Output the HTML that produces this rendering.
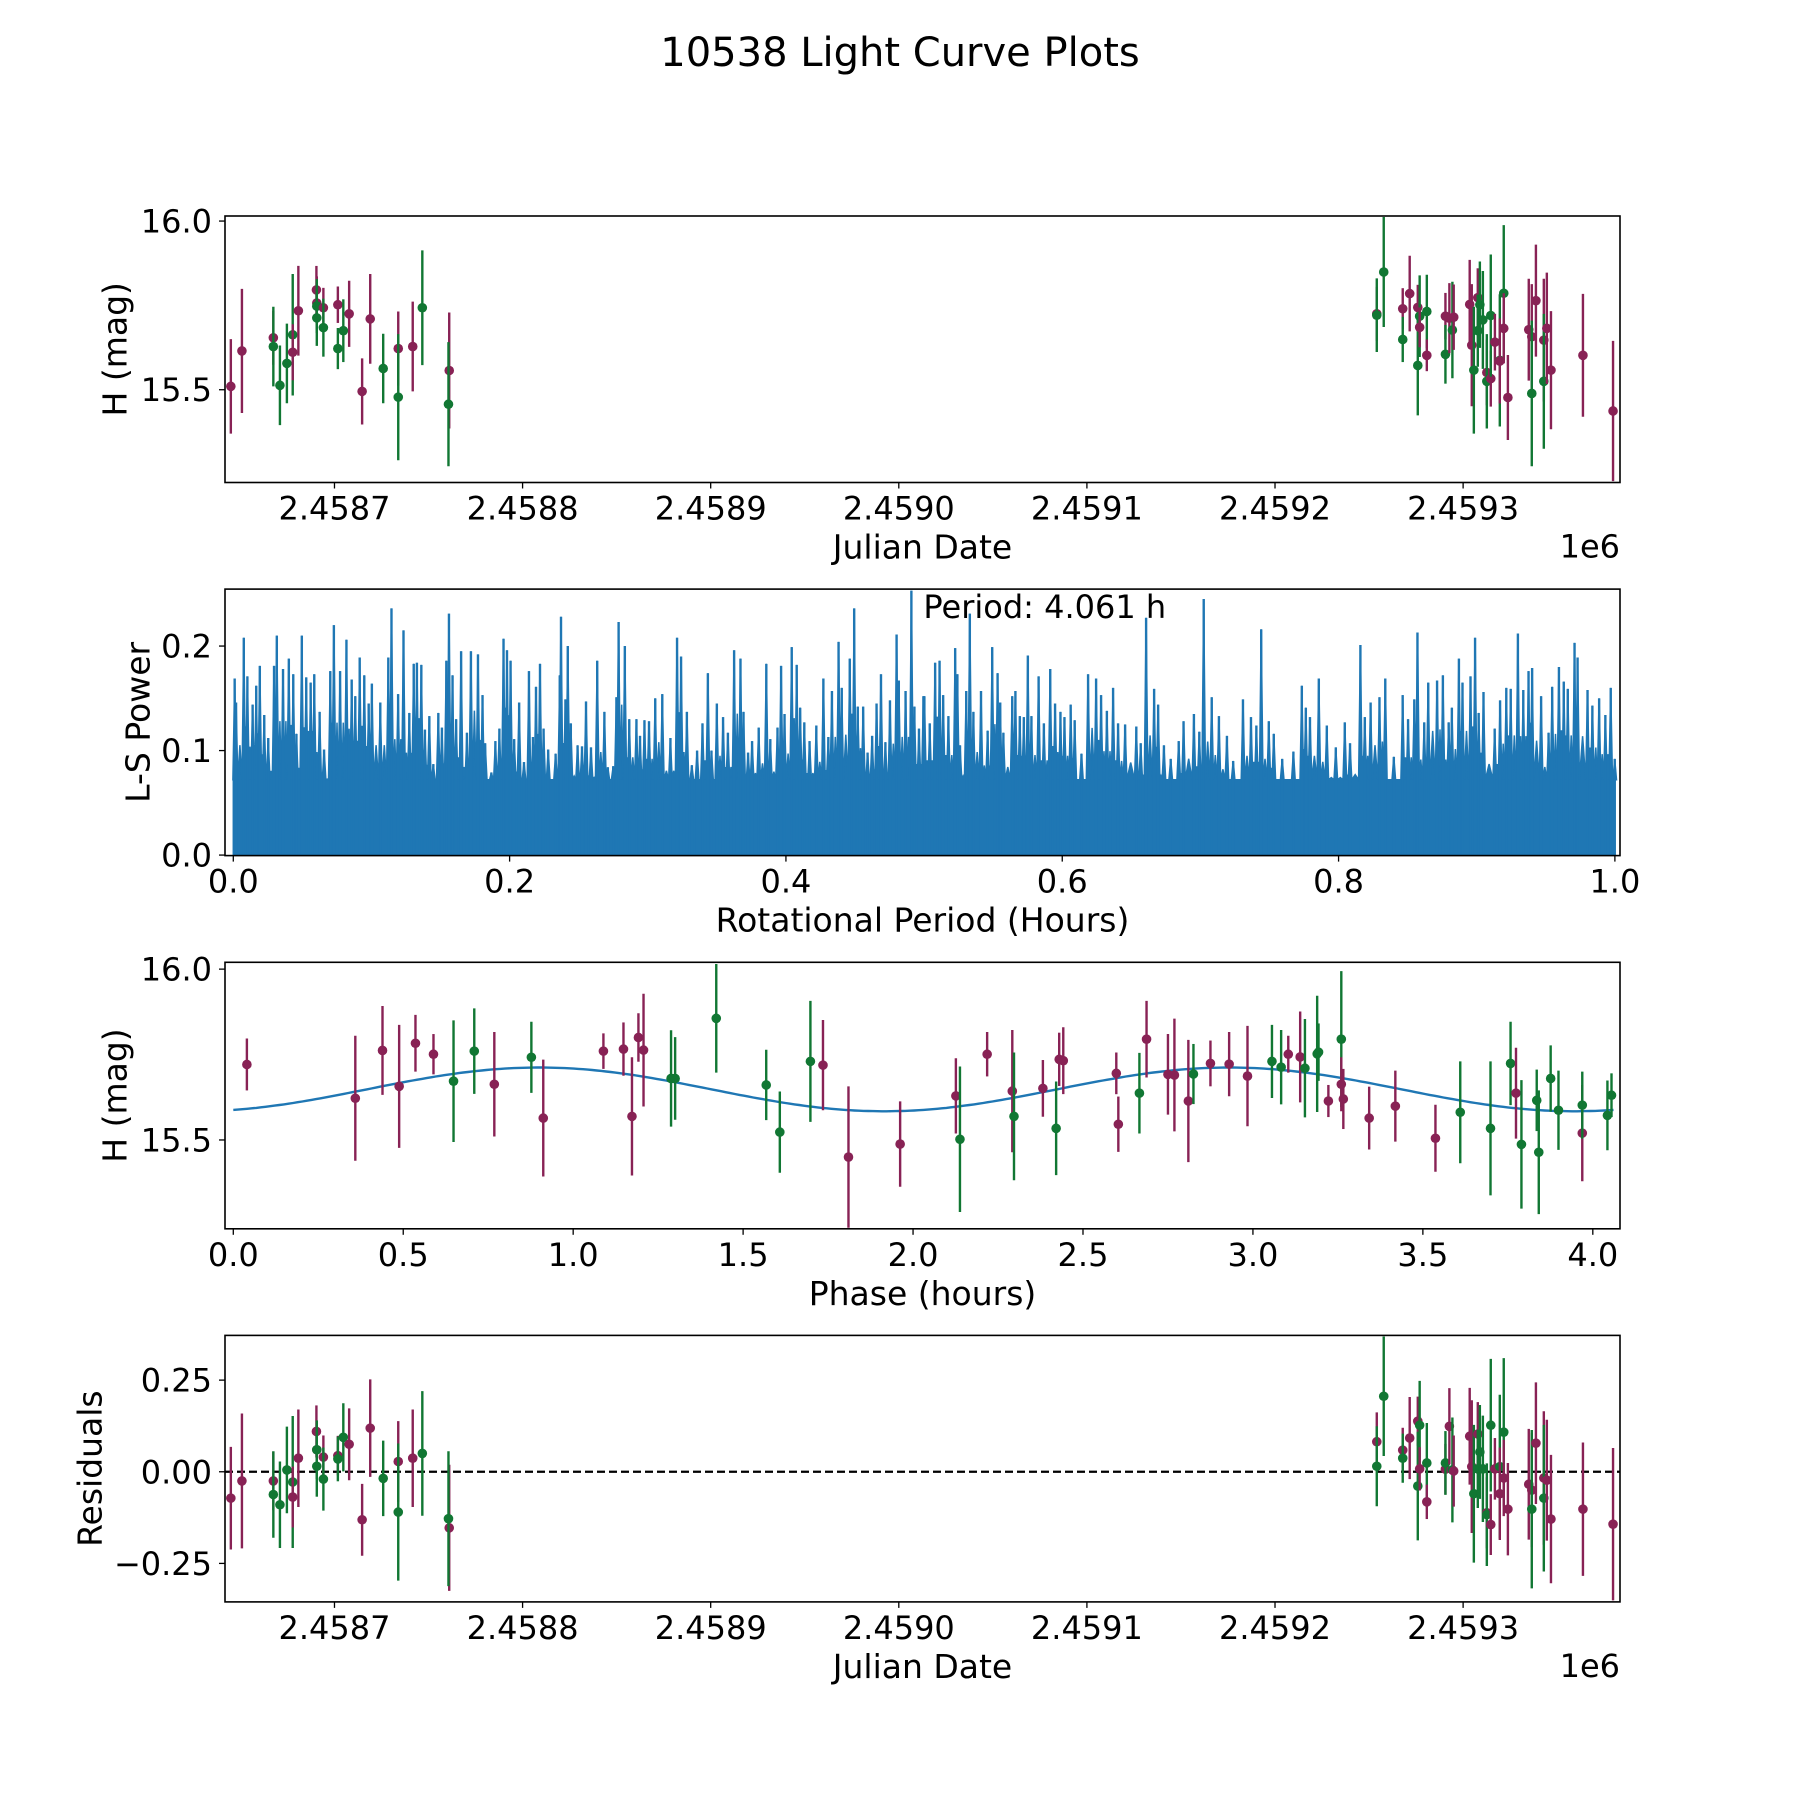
<!DOCTYPE html>
<html><head><meta charset="utf-8"><title>10538 Light Curve Plots</title>
<style>
html,body{margin:0;padding:0;background:#fff;}
svg{display:block;font-family:"DejaVu Sans","Liberation Sans",sans-serif;}
</style></head>
<body>
<svg id="fig" width="1800" height="1800" viewBox="0 0 1800 1800" xmlns="http://www.w3.org/2000/svg">
<rect x="0" y="0" width="1800" height="1800" fill="#fff"/>
<text x="900" y="66" font-size="40" text-anchor="middle" fill="#000">10538 Light Curve Plots</text>
</svg>
<script>
// ---------- Light curve data (Julian Date, H mag, error, filter, residual) ----------
const lcDates = [2458644.9,2458650.8,2458667.5,2458667.5,2458671.0,2458674.7,2458677.8,2458677.8,2458680.8,2458690.4,2458690.6,2458690.6,2458690.6,2458694.1,2458694.1,2458701.8,2458701.8,2458704.7,2458707.8,2458714.7,2458719.0,2458725.9,2458733.9,2458733.9,2458741.6,2458746.7,2458761.0,2458760.6,
2459254.1,2459254.1,2459257.8,2459267.9,2459267.9,2459271.6,2459275.9,2459275.9,2459276.9,2459276.9,2459280.7,2459280.7,2459290.6,2459290.6,2459292.7,2459294.3,2459295.0,2459303.5,2459304.6,2459305.7,2459307.8,2459308.9,2459307.8,2459310.5,2459312.6,2459312.6,2459314.7,2459314.7,2459316.9,2459319.5,2459319.5,2459321.6,2459321.6,2459323.8,2459334.9,2459336.5,2459336.5,2459338.7,2459342.9,2459342.9,2459344.5,2459346.7,2459363.7,2459379.7];
const lcMags = [15.510,15.615,15.654,15.628,15.513,15.578,15.663,15.611,15.734,15.796,15.757,15.748,15.713,15.743,15.684,15.752,15.622,15.675,15.725,15.495,15.710,15.563,15.622,15.478,15.628,15.743,15.557,15.457,
15.725,15.721,15.849,15.740,15.649,15.785,15.744,15.572,15.718,15.685,15.732,15.602,15.718,15.605,15.712,15.677,15.715,15.753,15.632,15.558,15.773,15.752,15.675,15.707,15.551,15.525,15.533,15.720,15.641,15.587,15.585,15.786,15.682,15.477,15.678,15.657,15.489,15.764,15.647,15.525,15.682,15.558,15.602,15.437];
const lcErrs = [0.140,0.184,0.080,0.118,0.118,0.118,0.180,0.083,0.133,0.071,0.079,0.080,0.083,0.059,0.086,0.054,0.061,0.093,0.098,0.098,0.133,0.103,0.110,0.187,0.133,0.170,0.172,0.184,
0.080,0.109,0.163,0.061,0.067,0.112,0.067,0.148,0.121,0.059,0.109,0.047,0.069,0.087,0.104,0.143,0.097,0.132,0.181,0.188,0.087,0.128,0.107,0.145,0.097,0.140,0.083,0.181,0.084,0.196,0.126,0.202,0.104,0.126,0.151,0.156,0.216,0.166,0.182,0.200,0.165,0.175,0.182,0.208];
const lcFilters = ["m","m","m","g","g","g","g","m","m","m","m","g","g","m","g","m","g","g","m","m","m","g","m","g","m","g","m","g",
"m","g","g","m","g","m","m","g","g","m","g","m","m","g","m","g","m","m","m","g","m","g","g","g","m","g","m","g","m","g","m","g","m","m","m","m","g","m","m","g","m","m","m","m"];
const lcResid = [-0.072,-0.025,-0.025,-0.062,-0.090,0.005,-0.028,-0.069,0.037,0.110,0.060,0.060,0.015,0.040,-0.020,0.044,0.035,0.094,0.075,-0.131,0.119,-0.018,0.028,-0.110,0.037,0.050,-0.153,-0.128,
0.082,0.015,0.206,0.059,0.037,0.092,0.138,-0.039,0.127,0.008,0.024,-0.082,0.007,0.024,0.124,0.005,0.002,0.097,0.014,-0.060,0.103,0.054,0.008,0.008,-0.112,-0.117,-0.144,0.127,0.008,0.014,-0.060,0.108,-0.017,-0.102,-0.034,-0.050,-0.102,0.078,-0.017,-0.072,-0.023,-0.129,-0.102,-0.143];

// ---------- Phase-folded data ----------
const phPhase = [0.040,0.359,0.439,0.488,0.536,0.589,0.648,0.709,0.768,0.877,0.912,1.089,1.148,1.173,1.192,1.207,1.288,1.300,
1.421,1.568,1.608,1.698,1.735,1.810,1.962,2.126,2.138,2.218,2.292,2.297,2.382,2.421,2.430,2.442,2.598,2.604,2.666,2.687,
2.750,2.769,2.810,2.825,2.875,2.930,2.984,3.056,3.083,3.104,3.139,3.153,3.189,3.193,3.222,3.260,3.260,3.266,3.342,3.419,3.537,3.610,3.699,3.758,3.774,3.790,3.835,3.841,3.876,3.899,3.969,3.969,4.043,4.055];
const phMag = [15.721,15.622,15.762,15.657,15.783,15.751,15.672,15.760,15.663,15.742,15.564,15.760,15.766,15.569,15.800,15.763,15.680,15.680,
15.856,15.661,15.523,15.730,15.719,15.450,15.488,15.629,15.502,15.751,15.643,15.569,15.651,15.534,15.736,15.732,15.695,15.546,15.637,15.795,
15.692,15.690,15.614,15.693,15.724,15.722,15.687,15.730,15.713,15.751,15.743,15.710,15.752,15.757,15.614,15.795,15.663,15.620,15.564,15.599,15.505,15.581,15.534,15.724,15.637,15.487,15.616,15.464,15.680,15.587,15.520,15.602,15.572,15.631];
const phErr = [0.076,0.183,0.130,0.180,0.083,0.059,0.178,0.125,0.153,0.104,0.171,0.052,0.078,0.173,0.071,0.165,0.141,0.121,
0.159,0.103,0.119,0.177,0.132,0.207,0.125,0.110,0.213,0.065,0.179,0.187,0.083,0.137,0.078,0.098,0.061,0.081,0.118,0.112,
0.118,0.165,0.179,0.088,0.067,0.094,0.147,0.107,0.109,0.054,0.133,0.144,0.170,0.084,0.047,0.199,0.079,0.088,0.092,0.104,0.098,0.149,0.196,0.122,0.133,0.188,0.090,0.181,0.097,0.116,0.141,0.098,0.102,0.064];
const phFilters = ["m","m","m","m","m","m","g","g","m","g","m","m","m","m","m","m","g","g",
"g","g","g","g","m","m","m","m","g","m","m","g","m","g","m","m","m","m","g","m",
"m","m","m","g","m","m","m","g","g","m","m","g","g","g","m","g","m","m","m","m","m","g","g","g","m","g","g","g","g","g","m","g","g","g"];
// Fitted sinusoid model parameters (mag)
const modelMean = 15.648;
const modelAmp = 0.064;
const modelPeak = 0.90;
const modelPeriod = 2.0305;
const modelRange = [0.0, 4.061];

// ---------- Periodogram peaks ----------
const lsFreq = [0.001,0.002,0.0076,0.0102,0.014,0.0166,0.0192,0.0224,0.0253,0.0295,0.0315,0.036,0.0402,0.0434,0.0457,0.0496,0.0528,0.056,0.0586,0.0625,0.0657,0.0702,0.0728,0.0773,0.0819,0.0857,0.0883,0.0915,0.0948,0.098,0.1003,0.1064,0.1122,0.1145,0.1193,0.1232,0.1274,0.1306,0.1329,0.1361,0.1387,0.1419,0.1448,0.1484,0.151,0.1542,0.1561,0.1587,0.1613,0.1649,0.1691,0.172,0.1771,0.1804,0.1823,0.1868,0.1897,0.1926,0.1956,0.1981,0.2007,0.2033,0.2069,0.2104,0.214,0.2169,0.2191,0.222,0.2246,0.2279,0.2333,0.2363,0.2372,0.2404,0.2421,0.2443,0.2492,0.2524,0.2553,0.2589,0.2634,0.2686,0.2711,0.275,0.2773,0.2789,0.2834,0.2866,0.2918,0.2944,0.2976,0.3009,0.3054,0.3105,0.3164,0.3212,0.3241,0.3283,0.3319,0.3357,0.3396,0.3435,0.3461,0.35,0.3545,0.358,0.3625,0.3671,0.3693,0.3726,0.3755,0.3803,0.3858,0.3887,0.3939,0.3965,0.399,0.4042,0.4078,0.4103,0.4133,0.4171,0.422,0.4271,0.4307,0.4333,0.4381,0.4404,0.4462,0.4494,0.452,0.4559,0.4591,0.4624,0.4656,0.4688,0.472,0.4753,0.4801,0.4817,0.4866,0.4908,0.493,0.4963,
0.4995,0.5002,0.5041,0.508,0.5112,0.5138,0.5176,0.5225,0.5241,0.526,0.5305,0.5331,0.5357,0.5412,0.546,0.5493,0.5532,0.5551,0.5574,0.5638,0.5661,0.5693,0.5722,0.5751,0.5777,0.5829,0.5867,0.5913,0.5948,0.5987,0.6016,0.6061,0.609,0.6139,0.6187,0.6245,0.6281,0.6323,0.6368,0.6404,0.6455,0.6536,0.6568,0.6607,0.6665,0.6694,0.6736,0.6785,0.6843,0.6878,0.6953,0.6992,0.7024,0.7082,0.7134,0.7192,0.7237,0.7308,0.7366,0.7405,0.744,0.7495,0.7531,0.7592,0.7673,0.7734,0.7763,0.7793,0.7857,0.7915,0.798,0.8045,0.8083,0.8158,0.819,0.8232,0.8296,0.8338,0.84,0.8464,0.8503,0.8548,0.8571,0.862,0.8649,0.8713,0.8755,0.8797,0.882,0.8871,0.8897,0.8955,0.8988,0.9014,0.9049,0.913,0.9169,0.9214,0.9246,0.9298,0.9337,0.9375,0.9401,0.9466,0.952,0.9546,0.9595,0.963,0.9659,0.9708,0.973,0.9802,0.9837,0.9886,0.9931,0.997,0.9999];
const lsPower = [0.169,0.146,0.208,0.171,0.144,0.162,0.181,0.134,0.112,0.181,0.210,0.178,0.188,0.173,0.116,0.210,0.170,0.165,0.173,0.137,0.101,0.176,0.220,0.176,0.206,0.168,0.152,0.189,0.172,0.145,0.164,0.146,0.189,0.236,0.154,0.215,0.136,0.183,0.184,0.182,0.120,0.133,0.087,0.136,0.122,0.186,0.231,0.172,0.130,0.195,0.117,0.195,0.192,0.153,0.107,0.079,0.109,0.121,0.207,0.196,0.186,0.111,0.146,0.089,0.176,0.113,0.161,0.183,0.121,0.101,0.097,0.172,0.228,0.149,0.200,0.126,0.105,0.104,0.147,0.103,0.186,0.137,0.084,0.085,0.151,0.223,0.200,0.130,0.130,0.114,0.129,0.128,0.150,0.154,0.112,0.208,0.190,0.137,0.086,0.100,0.126,0.174,0.100,0.145,0.132,0.117,0.196,0.188,0.137,0.098,0.109,0.122,0.183,0.111,0.122,0.181,0.135,0.199,0.182,0.141,0.127,0.109,0.124,0.169,0.113,0.157,0.204,0.160,0.188,0.236,0.142,0.142,0.098,0.114,0.145,0.173,0.108,0.148,0.211,0.167,0.157,0.253,0.142,0.121,
0.152,0.152,0.126,0.184,0.186,0.153,0.133,0.198,0.173,0.105,0.157,0.231,0.137,0.157,0.119,0.199,0.174,0.146,0.117,0.152,0.157,0.133,0.132,0.191,0.133,0.171,0.126,0.178,0.145,0.137,0.132,0.144,0.129,0.097,0.173,0.169,0.153,0.138,0.160,0.126,0.125,0.123,0.107,0.227,0.159,0.144,0.105,0.092,0.109,0.128,0.135,0.118,0.245,0.151,0.133,0.114,0.090,0.149,0.132,0.124,0.216,0.128,0.116,0.092,0.099,0.162,0.141,0.132,0.169,0.124,0.103,0.127,0.107,0.201,0.132,0.146,0.151,0.169,0.094,0.153,0.130,0.149,0.213,0.127,0.165,0.167,0.172,0.127,0.141,0.188,0.165,0.171,0.208,0.136,0.156,0.121,0.148,0.160,0.159,0.212,0.158,0.176,0.179,0.152,0.117,0.161,0.180,0.166,0.159,0.203,0.189,0.158,0.143,0.150,0.134,0.160,0.092];
const lsFloor = 0.072;
const periodLabel = "Period: 4.061 h";

// ---------- tick labels ----------
const jdTicks = [2458700,2458800,2458900,2459000,2459100,2459200,2459300];
const jdTickLabels = ["2.4587","2.4588","2.4589","2.4590","2.4591","2.4592","2.4593"];
const magTicks = [15.5,16.0];
const magTickLabels = ["15.5","16.0"];
const lsXTicks = [0,0.2,0.4,0.6,0.8,1.0];
const lsXTickLabels = ["0.0","0.2","0.4","0.6","0.8","1.0"];
const lsYTicks = [0,0.1,0.2];
const lsYTickLabels = ["0.0","0.1","0.2"];
const phXTicks = [0,0.5,1,1.5,2,2.5,3,3.5,4];
const phXTickLabels = ["0.0","0.5","1.0","1.5","2.0","2.5","3.0","3.5","4.0"];
const resTicks = [-0.25,0,0.25];
const resTickLabels = ["\u22120.25","0.00","0.25"];

const NS = "http://www.w3.org/2000/svg";
const svg = document.getElementById("fig");
const COLORS = {m:"#882255", g:"#117733"};
const L = 225, R = 1620;

function mk(tag, attrs, parent){
  const e = document.createElementNS(NS, tag);
  for (const k in attrs) e.setAttribute(k, attrs[k]);
  (parent||svg).appendChild(e);
  return e;
}
function scale(d0,d1,r0,r1){ return v => r0 + (v-d0)/(d1-d0)*(r1-r0); }

function makeAxes(name, top, bottom, xd, yd){
  const g = mk("g", {});
  
  
  const clipId = name + "-clip";
  const cp = mk("clipPath", {id: clipId}, g);
  mk("rect", {x:L, y:top, width:R-L, height:bottom-top}, cp);
  const plot = mk("g", {"clip-path":"url(#"+clipId+")"}, g);
  
  
  return {g, plot, top, bottom, x: scale(xd[0],xd[1],L,R), y: scale(yd[0],yd[1],bottom,top)};
}
function frame(ax){
  const f = mk("rect", {x:L, y:ax.top, width:R-L, height:ax.bottom-ax.top, fill:"none", stroke:"#000", "stroke-width":1.6}, ax.g);
  
  
}
function xTicks(ax, ticks, labels, axisName){
  ticks.forEach((t,i)=>{
    const px = ax.x(t);
    const tk = mk("line", {x1:px, x2:px, y1:ax.bottom, y2:ax.bottom+6, stroke:"#000", "stroke-width":1.3}, ax.g);
    
    
    const tl = mk("text", {x:px, y:ax.bottom+37, "font-size":32, "text-anchor":"middle", fill:"#000"}, ax.g);
    tl.textContent = labels[i];
    
    
  });
}
function yTicks(ax, ticks, labels, axisName){
  ticks.forEach((t,i)=>{
    const py = ax.y(t);
    const tk = mk("line", {x1:L-6, x2:L, y1:py, y2:py, stroke:"#000", "stroke-width":1.3}, ax.g);
    
    
    const tl = mk("text", {x:L-13, y:py+11.5, "font-size":32, "text-anchor":"end", fill:"#000"}, ax.g);
    tl.textContent = labels[i];
    
    
  });
}
function xLabel(ax, text, name){
  const t = mk("text", {x:(L+R)/2, y:ax.bottom+76, "font-size":33, "text-anchor":"middle", fill:"#000"}, ax.g);
  t.textContent = text;
  
  
}
function yLabel(ax, text, cx, name){
  const cy = (ax.top+ax.bottom)/2;
  const t = mk("text", {x:cx, y:cy, "font-size":33, "text-anchor":"middle", "dominant-baseline":"central", transform:"rotate(-90 "+cx+" "+cy+")", fill:"#000"}, ax.g);
  t.textContent = text;
  
  
}
function offsetText(ax){
  const t = mk("text", {x:R, y:ax.bottom+75, "font-size":32, "text-anchor":"end", fill:"#000"}, ax.g);
  t.textContent = "1e6";
  
  
}
function errPoint(ax, xv, yv, ev, c, name){
  const px = ax.x(xv), py = ax.y(yv);
  const bar = mk("line", {x1:px, x2:px, y1:ax.y(yv+ev), y2:ax.y(yv-ev), stroke:COLORS[c], "stroke-width":2.4}, ax.plot);
  
  
  const dot = mk("circle", {cx:px, cy:py, r:4.8, fill:COLORS[c]}, ax.plot);
  
  
}

// ---------- Panel 1: light curve ----------
const jdDomain = [2458641.8, 2459383.4];
const ax1 = makeAxes("light-curve-panel", 216, 482.5, jdDomain, [15.225, 16.015]);
lcDates.forEach((d,i)=> errPoint(ax1, d, lcMags[i], lcErrs[i], lcFilters[i], 'light-curve'));
frame(ax1);
xTicks(ax1, jdTicks, jdTickLabels, 'x-axis');
yTicks(ax1, magTicks, magTickLabels, 'y-axis');
xLabel(ax1, "Julian Date", 'x-axis-title');
yLabel(ax1, "H (mag)", 115, 'y-axis-title');
offsetText(ax1);

// ---------- Panel 2: periodogram ----------
const ax2 = makeAxes("periodogram-panel", 589.1, 855.6, [-0.006, 1.0037], [-0.0005, 0.2545]);
(function(){
  const bodyPts = [[ax2.x(0), ax2.y(0)], [ax2.x(0), ax2.y(lsFloor)]];
  for (let i=0;i<lsFreq.length;i++){
    const f = lsFreq[i], p = lsPower[i];
    bodyPts.push([ax2.x(f-0.0013), ax2.y(lsFloor)]);
    bodyPts.push([ax2.x(f), ax2.y(p)]);
    bodyPts.push([ax2.x(f+0.0013), ax2.y(lsFloor)]);
    if (i < lsFreq.length-1){
      const mid = (f + lsFreq[i+1]) / 2;
      const mp = Math.min(p, lsPower[i+1]) * 0.72;
      bodyPts.push([ax2.x(mid), ax2.y(Math.max(mp, lsFloor))]);
    }
  }
  bodyPts.push([ax2.x(1.0), ax2.y(lsFloor)]);
  bodyPts.push([ax2.x(1.0), ax2.y(0)]);
  const poly = mk("polygon", {points: bodyPts.map(p=>p[0].toFixed(1)+","+p[1].toFixed(1)).join(" "), fill:"#1f77b4", stroke:"#1f77b4", "stroke-width":1.5, "stroke-linejoin":"miter"}, ax2.plot);
  
  
  lsFreq.forEach((f,i)=>{
    const ln = mk("line", {x1:ax2.x(f), x2:ax2.x(f), y1:ax2.y(0), y2:ax2.y(lsPower[i]), stroke:"#1f77b4", "stroke-width":2.4}, ax2.plot);
    
    
  });
})();
frame(ax2);
xTicks(ax2, lsXTicks, lsXTickLabels, 'x-axis');
yTicks(ax2, lsYTicks, lsYTickLabels, 'y-axis');
xLabel(ax2, "Rotational Period (Hours)", 'x-axis-title');
yLabel(ax2, "L-S Power", 138, 'y-axis-title');
(function(){
  const t = mk("text", {x:ax2.x(0.4995), y:618, "font-size":32, fill:"#000"}, ax2.g);
  t.textContent = periodLabel;
  
  
})();

// ---------- Panel 3: phase-folded ----------
const ax3 = makeAxes("phase-panel", 962.3, 1228.8, [-0.0244, 4.080], [15.24, 16.02]);
(function(){
  const pts = [];
  const n = 300;
  for (let k=0;k<=n;k++){
    const ph = modelRange[0] + (modelRange[1]-modelRange[0])*k/n;
    const m = modelMean + modelAmp*Math.cos(2*Math.PI*(ph-modelPeak)/modelPeriod);
    pts.push(ax3.x(ph).toFixed(1)+","+ax3.y(m).toFixed(1));
  }
  const pl = mk("polyline", {points: pts.join(" "), fill:"none", stroke:"#1f77b4", "stroke-width":2.4}, ax3.plot);
  
  
})();
phPhase.forEach((p,i)=> errPoint(ax3, p, phMag[i], phErr[i], phFilters[i], 'phase'));
frame(ax3);
xTicks(ax3, phXTicks, phXTickLabels, 'x-axis');
yTicks(ax3, magTicks, magTickLabels, 'y-axis');
xLabel(ax3, "Phase (hours)", 'x-axis-title');
yLabel(ax3, "H (mag)", 115, 'y-axis-title');

// ---------- Panel 4: residuals ----------
const ax4 = makeAxes("residuals-panel", 1335.4, 1601.9, jdDomain, [-0.355, 0.372]);
(function(){
  const zl = mk("line", {x1:L, x2:R, y1:ax4.y(0), y2:ax4.y(0), stroke:"#000", "stroke-width":2.2, "stroke-dasharray":"8,4"}, ax4.plot);
  
  
})();
lcDates.forEach((d,i)=> errPoint(ax4, d, lcResid[i], lcErrs[i], lcFilters[i], 'residual'));
frame(ax4);
xTicks(ax4, jdTicks, jdTickLabels, 'x-axis');
yTicks(ax4, resTicks, resTickLabels, 'y-axis');
xLabel(ax4, "Julian Date", 'x-axis-title');
yLabel(ax4, "Residuals", 90, 'y-axis-title');
offsetText(ax4);
</script>
</body></html>
